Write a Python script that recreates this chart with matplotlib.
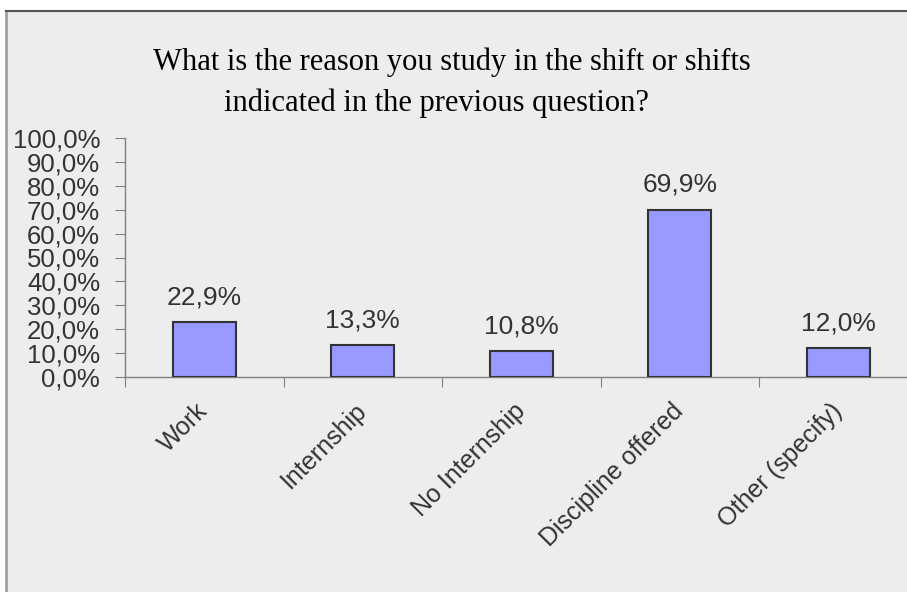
import matplotlib
matplotlib.use('Agg')
import matplotlib.pyplot as plt
import matplotlib.transforms as mtransforms
from matplotlib.patches import Rectangle
from matplotlib.lines import Line2D

categories = ['Work', 'Internship', 'No Internship', 'Discipline offered', 'Other (specify)']
values = [22.9, 13.3, 10.8, 69.9, 12.0]
yticks = [0, 10, 20, 30, 40, 50, 60, 70, 80, 90, 100]
title_lines = ['What is the reason you study in the shift or shifts',
               'indicated in the previous question?']

W, H = 907, 592
fig = plt.figure(figsize=(W / 100, H / 100), dpi=100)
fig.patch.set_facecolor('white')

# grey panel with border (left and top edges visible)
fig.patches.append(Rectangle((6 / W, 0), 1, 1 - 11 / H, transform=fig.transFigure,
                             facecolor='#ededed', edgecolor='none', zorder=-5))
fig.lines.append(Line2D([6 / W, 6 / W], [0, 1 - 11 / H], transform=fig.transFigure,
                        color='#999999', linewidth=1.8, zorder=-4))
fig.lines.append(Line2D([6 / W, 1], [1 - 11 / H, 1 - 11 / H], transform=fig.transFigure,
                        color='#555555', linewidth=1.5, zorder=-4))

serif = 'Liberation Serif'
sans = 'Liberation Sans'
fig.text(452 / W, 1 - 62 / H, title_lines[0], ha='center', va='center',
         family=serif, fontsize=22, color='black')
fig.text(436 / W, 1 - 103 / H, title_lines[1], ha='center', va='center',
         family=serif, fontsize=22, color='black')

ax = fig.add_axes([125 / W, (H - 377) / H, 792.5 / W, 239 / H])
ax.set_facecolor('none')
x = list(range(len(categories)))
ax.bar(x, values, width=0.4, color='#9999ff', edgecolor='#333333', linewidth=1.5, zorder=3)
ax.set_xlim(-0.5, len(categories) - 0.5)
ax.set_ylim(0, 100)

for xi, v in zip(x, values):
    ax.annotate(f'{v:.1f}%'.replace('.', ','), (xi, v), xytext=(0, 25),
                textcoords='offset pixels', ha='center', va='center',
                family=sans, fontsize=19, color='#333333')

ax.set_yticks(yticks)
ax.set_yticklabels([f'{t:.1f}%'.replace('.', ',') for t in yticks],
                   family=sans, fontsize=18.5, color='#333333')
ax.tick_params(axis='y', length=7, color='#808080', pad=11)

# boundaries get the ticks, centres get the labels
ax.set_xticks([i - 0.5 for i in range(len(categories) + 1)])
ax.set_xticklabels([])
ax.tick_params(axis='x', which='major', length=7, color='#808080')
ax.set_xticks(x, minor=True)
ax.set_xticklabels(categories, minor=True, rotation=45, ha='right', va='center',
                   rotation_mode='anchor', family=sans, fontsize=18, color='#333333')
ax.tick_params(axis='x', which='minor', length=0, pad=0)
offset = mtransforms.ScaledTranslation(0 / 100, -30 / 100, fig.dpi_scale_trans)
for lab in ax.get_xticklabels(minor=True):
    lab.set_transform(lab.get_transform() + offset)

for s in ['top', 'right']:
    ax.spines[s].set_visible(False)
for s in ['left', 'bottom']:
    ax.spines[s].set_color('#808080')
    ax.spines[s].set_linewidth(1)

fig.savefig('out.png', dpi=100)
